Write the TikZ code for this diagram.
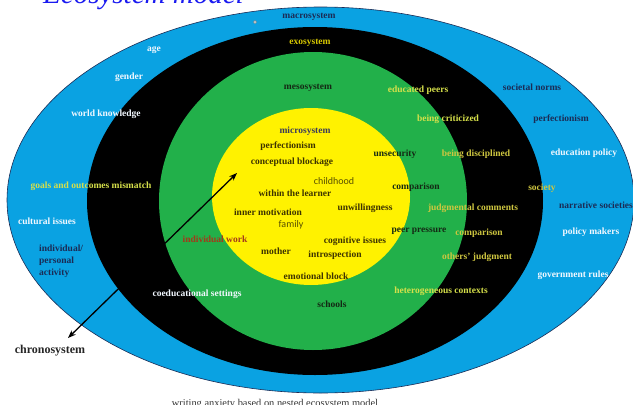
\documentclass[tikz,border=0pt]{standalone}
\usepackage{fontspec}
\setmainfont{Liberation Serif}
\newfontfamily\calib{Carlito}
\usetikzlibrary{arrows.meta}
\definecolor{ringblue}{HTML}{0AA2E2}
\definecolor{ringgreen}{HTML}{22B04A}
\definecolor{ringyellow}{HTML}{FFF200}
\definecolor{navy}{HTML}{1B2B55}
\definecolor{whitetxt}{HTML}{F2F8FF}
\definecolor{lightyg}{HTML}{D6E04A}
\definecolor{goldy}{HTML}{CEC640}
\definecolor{olivetxt}{HTML}{3D3300}
\definecolor{olivesans}{HTML}{585000}
\definecolor{darkgr}{HTML}{142814}
\definecolor{exocol}{HTML}{D8C800}
\definecolor{microcol}{HTML}{3B3B5C}
\definecolor{indwork}{HTML}{A33A1A}
\definecolor{titleblue}{HTML}{1A1AF0}
\tikzset{
  lbl/.style={font=\fontsize{9.5}{11}\selectfont\bfseries, inner sep=0pt},
  sanslbl/.style={font=\calib\fontsize{10}{11}\selectfont, inner sep=0pt, text=olivesans},
}
\begin{document}
\begin{tikzpicture}[x=1pt,y=-1pt]
\useasboundingbox (0,0) rectangle (633,405);
% title and caption (partly cut by page, as in the reference)
\node[anchor=base west, inner sep=0pt, text=titleblue, font=\fontsize{29}{30}\selectfont\itshape] (title) at (43,3.5) {Ecosystem model};
\node[anchor=base, inner sep=0pt, text=black!80, font=\fontsize{10.4}{11}\selectfont] (caption) at (275,406) {writing anxiety based on nested ecosystem model};
% rings
\fill[ringblue, draw=navy, line width=0.6pt] (320.5,200) ellipse [x radius=313.5pt, y radius=193pt];
\fill[black] (315,201) ellipse [x radius=228pt, y radius=174pt];
\fill[ringgreen] (313,201) ellipse [x radius=154pt, y radius=149pt];
\fill[ringyellow] (311,196.5) ellipse [x radius=99pt, y radius=88.5pt];
\fill[white, draw=gray] (255,22) circle [radius=1.5pt];
% macrosystem ring
\node[lbl, text=navy] (macro) at (309,17) {macrosystem};
\node[lbl, text=whitetxt] (age) at (154,50) {age};
\node[lbl, text=whitetxt] (gender) at (129,77) {gender};
\node[lbl, text=whitetxt] (world) at (106,114) {world knowledge};
\node[lbl, text=lightyg] (goals) at (91,186) {goals and outcomes mismatch};
\node[lbl, text=whitetxt] (cultural) at (47,221) {cultural issues};
\node[lbl, text=navy, anchor=west, align=left, font=\fontsize{9.5}{12}\selectfont\bfseries] (indiv) at (39,261) {individual/\\personal\\activity};
\node[lbl, text=navy] (norms) at (532,87) {societal norms};
\node[lbl, text=navy] (perf2) at (561,119) {perfectionism};
\node[lbl, text=whitetxt] (edpol) at (584,153) {education policy};
\node[lbl, text=navy] (narr) at (596,205) {narrative societies};
\node[lbl, text=whitetxt] (polm) at (591,232) {policy makers};
\node[lbl, text=whitetxt] (gov) at (573,275) {government rules};
% exosystem ring
\node[lbl, text=exocol] (exo) at (310,43) {exosystem};
\node[lbl, text=goldy] (society) at (542,188) {society};
\node[lbl, text=goldy] (disc) at (476,154) {being disciplined};
\node[lbl, text=goldy] (judg) at (473,208) {judgmental comments};
\node[lbl, text=goldy] (comp2) at (479,233) {comparison};
\node[lbl, text=goldy] (others) at (477,257) {others' judgment};
\node[lbl, text=whitetxt] (coed) at (197,294) {coeducational settings};
% mesosystem ring
\node[lbl, text=darkgr] (meso) at (308,88) {mesosystem};
\node[lbl, text=lightyg] (edpeers) at (418,90) {educated peers};
\node[lbl, text=lightyg] (crit) at (448,119) {being criticized};
\node[lbl, text=darkgr] (unsec) at (395,154) {unsecurity};
\node[lbl, text=darkgr] (comp1) at (416,187) {comparison};
\node[lbl, text=darkgr] (peer) at (419,231) {peer pressure};
\node[lbl, text=indwork] (indw) at (215,239) {individual work};
\node[lbl, text=lightyg] (hetero) at (441,291) {heterogeneous contexts};
\node[lbl, text=darkgr] (schools) at (332,304) {schools};
% microsystem
\node[lbl, text=microcol] (micro) at (305,131) {microsystem};
\node[lbl, text=olivetxt] (perf1) at (288,146) {perfectionism};
\node[lbl, text=olivetxt] (concept) at (292,162) {conceptual blockage};
\node[sanslbl] (child) at (334,181) {childhood};
\node[lbl, text=olivetxt] (within) at (295,193) {within the learner};
\node[lbl, text=olivetxt] (unwill) at (365,208) {unwillingness};
\node[lbl, text=olivetxt] (inner) at (268,212) {inner motivation};
\node[sanslbl] (family) at (291,225) {family};
\node[lbl, text=olivetxt] (cog) at (355,241) {cognitive issues};
\node[lbl, text=olivetxt] (mother) at (276,251) {mother};
\node[lbl, text=olivetxt] (intro) at (335,255) {introspection};
\node[lbl, text=olivetxt] (emo) at (316,276) {emotional block};
% chronosystem
\node[inner sep=0pt, text=black!85, font=\fontsize{12}{13}\selectfont\bfseries] (chrono) at (50,351) {chronosystem};
\coordinate (arrIn) at (237,173);
\coordinate (arrOut) at (68,338);
\draw[line width=1.3pt, {Stealth[length=8pt,width=6pt]}-{Stealth[length=8pt,width=6pt]}] (arrOut) -- (arrIn);
\end{tikzpicture}
\end{document}
